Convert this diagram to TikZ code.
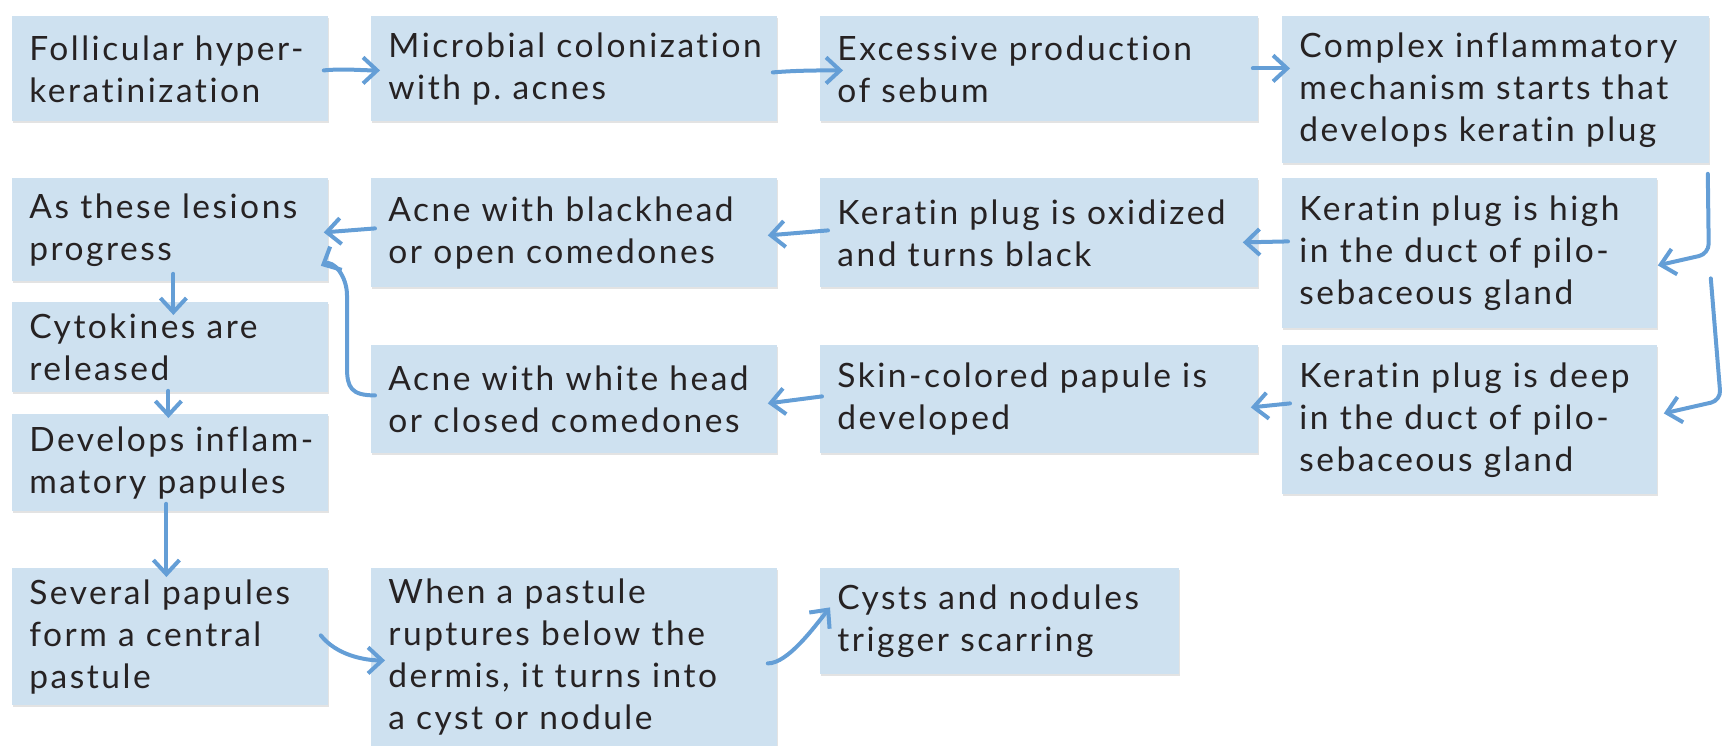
\documentclass[tikz,border=0pt]{standalone}
\usepackage{fontspec}
\setmainfont{Lato}[LetterSpace=7.5, Ligatures=NoCommon]
\usepackage{tikz}
\usetikzlibrary{arrows.meta, positioning, calc, shadows}
\definecolor{cardblue}{RGB}{206,225,240}
\definecolor{ink}{RGB}{38,34,35}
\definecolor{penblue}{RGB}{100,158,214}
\frenchspacing

\begin{document}
\begin{tikzpicture}[x=1pt, y=1pt,
  card/.style={rectangle, anchor=north west, fill=cardblue, inner xsep=8.5pt, inner ysep=3pt, align=left, text=ink, font=\fontsize{16.75}{21}\selectfont, execute at begin node={\rightskip=0pt plus 1fil minus 40pt}, drop shadow={shadow xshift=0.5pt, shadow yshift=-0.9pt, opacity=0.22}},
  c1/.style={card, minimum width=158pt, text width=141pt},
  c2/.style={card, minimum width=203pt, text width=186pt},
  c3/.style={card, minimum width=219pt, text width=202pt},
  c4/.style={card, minimum width=187.5pt, text width=170.5pt},
  flow/.style={-{Straight Barb[length=7pt, width=13pt]}, line width=2pt, draw=penblue, line cap=round, line join=round}
]
 \useasboundingbox (0,0) rectangle (865,-372.5);
 \clip (0,0) rectangle (865,-372.5);

 % top row
 \node[c1, minimum height=52.5pt] (fol) at (6,-8) {Follicular hyper-\\keratinization};
 \node[c2, minimum height=52.5pt] (mic) at (185.5,-8) {Microbial colonization\\with p. acnes};
 \node[c3, minimum height=52.5pt] (exc) at (410,-8) {Excessive production\\of sebum};
 \node[card, minimum width=213.5pt, text width=196.5pt, minimum height=73.5pt] (cpx) at (641,-8) {Complex inflammatory\\mechanism starts that\\develops keratin plug};

 % second row
 \node[c1, minimum height=51.5pt] (les) at (6,-89) {As these lesions\\progress};
 \node[c2, minimum height=54.5pt] (blk) at (185.5,-89) {Acne with blackhead\\or open comedones};
 \node[c3, minimum height=54.5pt] (oxi) at (410,-89) {Keratin plug is oxidized\\and turns black};
 \node[c4, minimum height=75pt] (hig) at (641,-89) {Keratin plug is high\\in the duct of pilo-\\sebaceous gland};

 % third row
 \node[c1, minimum height=45pt] (cyt) at (6,-151) {Cytokines are\\released};
 \node[c2, minimum height=54pt] (wht) at (185.5,-172.5) {Acne with white head\\or closed comedones};
 \node[c3, minimum height=54pt] (skn) at (410,-172.5) {Skin-colored papule is\\developed};
 \node[c4, minimum height=74.5pt] (dep) at (641,-172.5) {Keratin plug is deep\\in the duct of pilo-\\sebaceous gland};

 % lower rows
 \node[c1, minimum height=48.5pt] (dev) at (6,-207) {Develops inflam-\\matory papules};
 \node[c1, minimum height=68.5pt] (sev) at (6,-284) {Several papules\\form a central\\pastule};
 \node[c2, minimum height=89pt] (whn) at (185.5,-284) {When a pastule\\ruptures below the\\dermis, it turns into\\a cyst or nodule};
 \node[card, minimum width=179.5pt, text width=162.5pt, minimum height=53pt] (cys) at (410,-284) {Cysts and nodules\\trigger scarring};

 % arrows along the top
 \draw[flow] ([shift={(-2.5,-0.75)}]fol.east) .. controls +(10,1) and +(-10,0) .. ([shift={(4.5,-0.75)}]mic.west);
 \draw[flow] ([shift={(-2.5,-1.75)}]mic.east) .. controls +(12,1) and +(-12,0) .. ([shift={(11.5,-0.75)}]exc.west);
 \draw[flow] ([shift={(-3,0.25)}]exc.east) -- ([shift={(4,10.75)}]cpx.west);

 % down the right side
 \draw[flow, rounded corners=5pt] ([shift={(-1,-5)}]cpx.south east) -- ++(0.5,-40) -- ([yshift=-6]hig.east);
 \coordinate (split) at ([shift={(26.5,-12.5)}]hig.east);
 \draw[flow, rounded corners=5pt] (split) -- ++(5,-61) -- ([shift={(3,3.25)}]dep.east);

 % right to left
 \draw[flow] ([shift={(3,6)}]hig.west) -- ([shift={(-8,-4.75)}]oxi.east);
 \draw[flow] ([shift={(4,1.25)}]oxi.west) -- ([shift={(-5,-1.25)}]blk.east);
 \draw[flow] ([shift={(2,2.25)}]blk.west) -- ([shift={(-2.5,-1.25)}]les.east);
 \draw[flow] ([shift={(4,8.25)}]dep.west) -- ([shift={(-4,-4)}]skn.east);
 \draw[flow] ([shift={(1,1.5)}]skn.west) -- ([shift={(-5,-2)}]wht.east);
 \draw[flow] ([shift={(2,2)}]wht.west) .. controls +(-12,0) and +(0,-10) .. ++(-14,14) -- ++(0,36) .. controls +(0,10) and +(6,3) .. ([shift={(-4,8)}]les.south east);

 % left column downwards
 \draw[flow] ([shift={(1.5,4)}]les.south) -- ([shift={(1.5,-6.5)}]cyt.north);
 \draw[flow] ([shift={(-1,1)}]cyt.south) -- ([shift={(-1,-2)}]dev.north);
 \draw[flow] ([shift={(-2,4)}]dev.south) -- ([shift={(-2,-4.5)}]sev.north);

 % bottom row
 \draw[flow] ([shift={(-4,0.75)}]sev.east) .. controls +(8,-10) and +(-10,0) .. ([shift={(7,-1.5)}]whn.west);
 \draw[flow] ([shift={(-5,-3)}]whn.east) .. controls +(10,0) and +(-8,-10) .. ([shift={(5,7)}]cys.west);
\end{tikzpicture}
\end{document}
